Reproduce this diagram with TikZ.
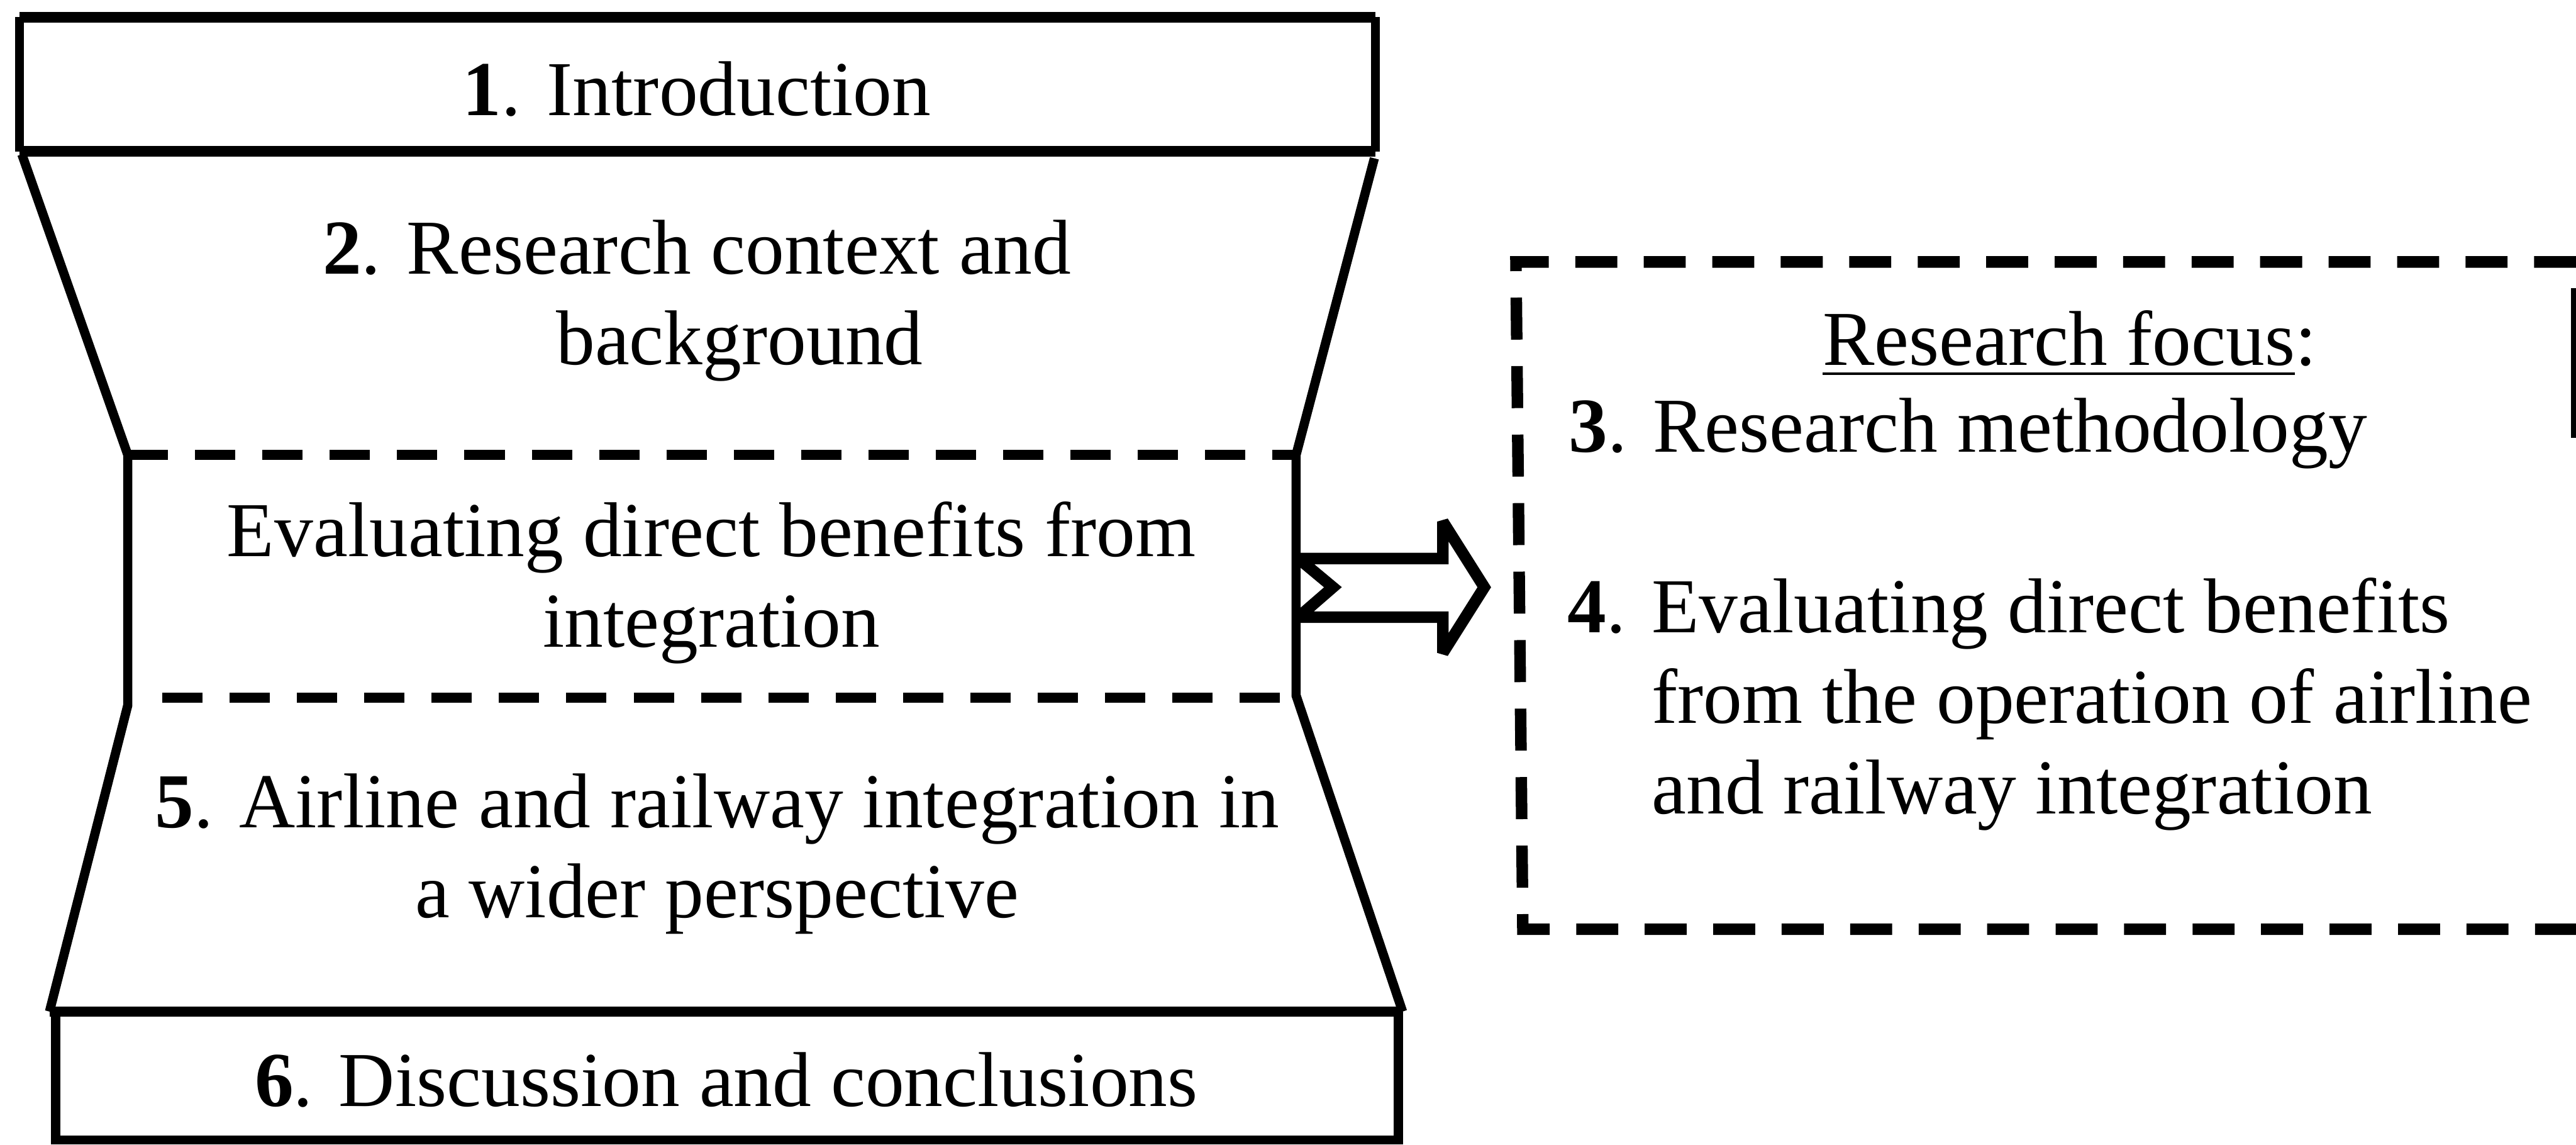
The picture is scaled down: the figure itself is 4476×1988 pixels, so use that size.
\documentclass[tikz,border=0pt]{standalone}
\usepackage{fontspec}
\setmainfont{Liberation Serif}
\begin{document}
\begin{tikzpicture}[x=0.1pt,y=-0.1pt,
  solidline/.style={line width=1.6pt, line join=miter},
  thickrule/.style={line width=1.8pt},
  dashrule/.style={line width=1.8pt, dash pattern=on 7pt off 4.7pt},
  boxdash/.style={line width=2pt, dash pattern=on 7.3pt off 4.6pt},
  txt/.style={font=\fontsize{13.5}{15.7}\selectfont, inner sep=0pt, anchor=base},
  bigarrow/.style={line width=2pt, line join=miter, miter limit=2.5}
]
\useasboundingbox (0,0) rectangle (4476,1988);

% --- left column outline ---
\coordinate (ia) at (34,30);   \coordinate (ib) at (2390,30);
\coordinate (ic) at (2390,263);\coordinate (id) at (34,263);
\draw[thickrule] (ia) -- (ib);
\draw[thickrule] (id) -- (ic);
\draw[solidline] (ia) -- (id);
\draw[solidline] (ib) -- (ic);

\coordinate (l1) at (38,268);   \coordinate (l2) at (222,790);
\coordinate (l3) at (222,1225); \coordinate (l4) at (86,1757);
\coordinate (r1) at (2388,275); \coordinate (r2) at (2252,790);
\coordinate (r3) at (2252,1208);\coordinate (r4) at (2437,1757);
\draw[solidline] (l1) -- (l2) -- (l3) -- (l4);
\draw[solidline] (r1) -- (r2) -- (r3) -- (r4);

\draw[dashrule] (l2) -- (r2);
\coordinate (d2a) at (282,1212); \coordinate (d2b) at (2252,1212);
\draw[dashrule] (d2a) -- (d2b);

\coordinate (da) at (97,1757);  \coordinate (db) at (2430,1757);
\coordinate (dc) at (2430,1980);\coordinate (dd) at (97,1980);
\draw[thickrule] (l4) -- (r4);
\draw[solidline] (da) -- (dd) -- (dc) -- (db);

% --- texts left ---
\node[txt] (t1) at (1211,200) {\textbf{1}. Introduction};
\node[txt] (t2) at (1211,476) {\begin{tabular}[t]{@{}c@{}}\textbf{2}. Research context and\\\hspace*{14.8pt}background\end{tabular}};
\node[txt] (tev) at (1236,967) {\begin{tabular}[t]{@{}c@{}}Evaluating direct benefits from\\integration\end{tabular}};
\node[txt] (t5) at (1246,1437) {\begin{tabular}[t]{@{}c@{}}\textbf{5}. Airline and railway integration in\\a wider perspective\end{tabular}};
\node[txt] (t6) at (1262,1922) {\textbf{6}. Discussion and conclusions};

% --- arrow ---
\draw[bigarrow] (2256,970) -- (2507,970) -- (2507,906) -- (2579,1020) -- (2507,1134) -- (2507,1072) -- (2256,1072) -- (2316,1020) -- cycle;

% --- research focus box ---
\coordinate (fa) at (2634,455); \coordinate (fb) at (4476,455);
\coordinate (fc) at (4476,1614); \coordinate (fd) at (2646,1614);
\coordinate (fe) at (4477,500); \coordinate (ff) at (4477,760);
\draw[boxdash] (fb) -- (fa) -- (fd) -- (fc);
\draw[line width=2pt] (fe) -- (ff);
\node[txt] (focus) at (3596,634) {\underline{Research focus}:};
\node[txt, anchor=base west] (t3) at (2724,785) {\textbf{3}. Research methodology};
\node[txt, anchor=base west] (t4) at (2722,1099) {\begin{tabular}[t]{@{}l@{}l@{}}\makebox[14.6pt][l]{\textbf{4}.} & Evaluating direct benefits\\ & from the operation of airline\\ & and railway integration\end{tabular}};
\end{tikzpicture}
\end{document}
